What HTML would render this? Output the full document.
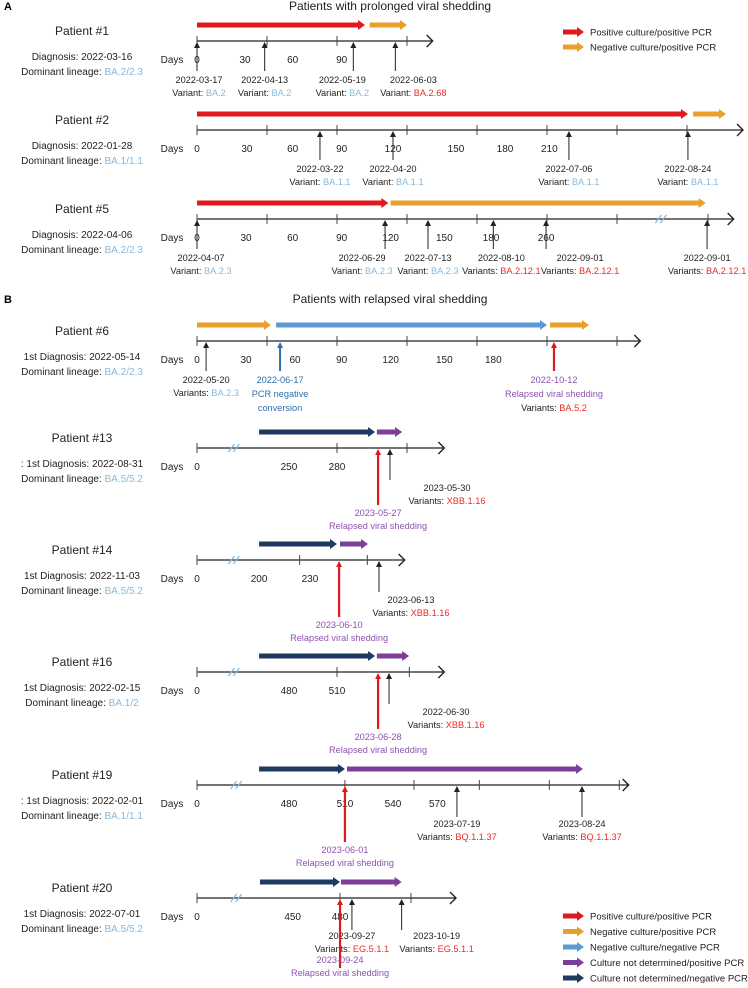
<!DOCTYPE html>
<html><head><meta charset="utf-8">
<style>
body{margin:0;background:#fff;width:748px;height:983px;overflow:hidden}
svg{font-family:"Liberation Sans",sans-serif}
</style></head>
<body>
<svg id="fig" width="748" height="983" viewBox="0 0 748 983" xmlns="http://www.w3.org/2000/svg">
<text x="4" y="10" font-size="11" font-weight="bold">A</text>
<text x="390" y="10" font-size="12" text-anchor="middle" fill="#222">Patients with prolonged viral shedding</text>
<text x="4" y="303" font-size="11" font-weight="bold">B</text>
<text x="390" y="303" font-size="12" text-anchor="middle" fill="#222">Patients with relapsed viral shedding</text>
</svg>
<script>
const COL={red:'#e0191f',orange:'#e8a02a',blue:'#5b9bd5',purple:'#7b3f99',navy:'#1f3a5f'};
const TXT={lb:'#86b9dc',red:'#ee2a2a',pu:'#8e52b0',bl:'#2e6fad',k:'#222'};
const ORIGIN=197, PXPERUNIT=70/30;
function X(u){return ORIGIN+u*PXPERUNIT;}

// --- data arrays (axis units) ---
const patientNames=['Patient #1','Patient #2','Patient #5','Patient #6','Patient #13','Patient #14','Patient #16','Patient #19','Patient #20'];
const diagnoses=['Diagnosis: 2022-03-16','Diagnosis: 2022-01-28','Diagnosis: 2022-04-06','1st Diagnosis: 2022-05-14',': 1st Diagnosis: 2022-08-31','1st Diagnosis: 2022-11-03','1st Diagnosis: 2022-02-15',': 1st Diagnosis: 2022-02-01','1st Diagnosis: 2022-07-01'];
const lineages=['BA.2/2.3','BA.1/1.1','BA.2/2.3','BA.2/2.3','BA.5/5.2','BA.5/5.2','BA.1/2','BA.1/1.1','BA.5/5.2'];
const rowY=[41,130,219,341,448,560,672,785,898];
const axisEnd=[101,234,230,190,106,89,106,185,111];
const breaks=[null,null,199,null,16,16,16,17,17];
const ticks=[[0,30,60,90],[0,30,60,90,120,150,180,210],[0,30,60,90,120,150,180,219],[0,30,60,90,120,150,180],[0,60,90],[0,44,73],[0,60,91],[0,63.4,93,121,151,181],[0,61.3,91.7]];
const tickLabels=[['0','30','60','90'],['0','30','60','90','120','150','180','210'],['0','30','60','90','120','150','180','260'],['0','30','60','90','120','150','180'],['0','250','280'],['0','200','230'],['0','480','510'],['0','480','510','540','570'],['0','450','480']];
const tickLabelPos=[[0,20.6,41,62],[0,21.4,41,62,84,111,132,151],[0,21,41,62,83,106,126,149.6],[0,21,42,62,83,106,127],[0,39.4,60],[0,26.6,48.4],[0,39.4,60],[0,39.4,63.4,84,103],[0,41,61.3]];
const segStart=[[0,74],[0,212.6],[0,83],[0,33.9,151.3],[26.6,77.1],[26.6,61.3],[26.6,77.1],[26.6,64.3],[27,61.7]];
const segEnd=[[72,90],[210.4,226.7],[82,218],[31.7,150,168],[76.3,87.9],[60,73.3],[76.3,90.9],[63.4,165.4],[61.3,87.7]];
const segColor=[['red','orange'],['red','orange'],['red','orange'],['orange','blue','orange'],['navy','purple'],['navy','purple'],['navy','purple'],['navy','purple'],['navy','purple']];
const sampleAt=[[0,29,67,85],[52.7,84,159.4,210.4],[0,80.6,99,127,149.6,218.6],[3.9],[82.7],[78],[82.3],[111.4,165],[66.4,87.7]];
const sampleDate=[['2022-03-17','2022-04-13','2022-05-19','2022-06-03'],['2022-03-22','2022-04-20','2022-07-06','2022-08-24'],['2022-04-07','2022-06-29','2022-07-13','2022-08-10','2022-09-01','2022-09-01'],['2022-05-20'],['2023-05-30'],['2023-06-13'],['2022-06-30'],['2023-07-19','2023-08-24'],['2023-09-27','2023-10-19']];
const samplePrefix=[['Variant: ','Variant: ','Variant: ','Variant: '],['Variant: ','Variant: ','Variant: ','Variant: '],['Variant: ','Variant: ','Variant: ','Variants: ','Variants: ','Variants: '],['Variants: '],['Variants: '],['Variants: '],['Variants: '],['Variants: ','Variants: '],['Variants: ','Variants: ']];
const sampleVariant=[['BA.2','BA.2','BA.2','BA.2.68'],['BA.1.1','BA.1.1','BA.1.1','BA.1.1'],['BA.2.3','BA.2.3','BA.2.3','BA.2.12.1','BA.2.12.1','BA.2.12.1'],['BA.2.3'],['XBB.1.16'],['XBB.1.16'],['XBB.1.16'],['BQ.1.1.37','BQ.1.1.37'],['EG.5.1.1','EG.5.1.1']];
const variantIsNew=[[0,0,0,1],[0,0,0,0],[0,0,0,1,1,1],[0],[1],[1],[1],[1,1],[1,1]];
// label layout nudges (px) so annotation text doesn't collide
const labelShift=[[2,0,-11,18],[0,0,0,0],[4,-23,0,8,34,0],[0],[57],[32],[57],[0,0],[0,35]];
const relapseAt=[null,null,null,153,77.6,60.9,77.6,63.4,61.3];
const relapseDate=[null,null,null,'2022-10-12','2023-05-27','2023-06-10','2023-06-28','2023-06-01','2023-09-24'];
const pcrNegAt=35.6, pcrNegDate='2022-06-17';
const legendTop=['Positive culture/positive PCR','Negative culture/positive PCR'];
const legendTopCol=['red','orange'];
const legendBot=['Positive culture/positive PCR','Negative culture/positive PCR','Negative culture/negative PCR','Culture not determined/positive PCR','Culture not determined/negative PCR'];
const legendBotCol=['red','orange','blue','purple','navy'];

const NS='http://www.w3.org/2000/svg';
const svg=document.getElementById('fig');
const FS=9.2;
function el(tag,attrs,parent){const e=document.createElementNS(NS,tag);for(const k in attrs)e.setAttribute(k,attrs[k]);(parent||svg).appendChild(e);return e;}
function txt(x,y,s,size,fill,anchor,parent){const t=el('text',{x:x,y:y,'font-size':size,fill:fill,'text-anchor':anchor||'middle'},parent);t.textContent=s;return t;}
function twoTone(x,y,a,b,colB,parent){const t=el('text',{x:x,y:y,'font-size':FS,'text-anchor':'middle',fill:TXT.k},parent);const s1=el('tspan',{},t);s1.textContent=a;const s2=el('tspan',{fill:colB},t);s2.textContent=b;return t;}
function fatArrow(x1,x2,y,c,parent){el('rect',{x:x1,y:y-2.5,width:Math.max(0,x2-x1-6),height:5,fill:c},parent);el('polygon',{points:`${x2-7},${y-5} ${x2},${y} ${x2-7},${y+5}`,fill:c},parent);}
function upArrow(x,y1,y2,c,w,parent){el('line',{x1:x,y1:y2,x2:x,y2:y1+5,stroke:c,'stroke-width':w},parent);el('polygon',{points:`${x-3},${y1+6} ${x},${y1} ${x+3},${y1+6}`,fill:c},parent);}

for(let p=0;p<patientNames.length;p++){
  const y=rowY[p];
  const g=el('g',{});
  
  
  const nameY=[35,124,213,335,442,554,666,779,892][p];
  const n=txt(82,nameY,patientNames[p],12,TXT.k,'middle',g);
  
  
  const d=txt(82,y+19,diagnoses[p],10,TXT.k,'middle',g);
  
  
  const l=twoTone(82,y+34,'Dominant lineage: ',lineages[p],TXT.lb,g);
  l.setAttribute('font-size','10');
  
  
  for(let s=0;s<segStart[p].length;s++){
    const bg=el('g',{},g);
    
    
    fatArrow(X(segStart[p][s]),X(segEnd[p][s]),y-16,COL[segColor[p][s]],bg);
  }
  const ax=el('g',{},g);
  
  
  const xe=X(axisEnd[p]);
  el('line',{x1:ORIGIN,y1:y,x2:xe,y2:y,stroke:'#222','stroke-width':1.2},ax);
  el('polyline',{points:`${xe-6},${y-6} ${xe},${y} ${xe-6},${y+6}`,fill:'none',stroke:'#222','stroke-width':1.4},ax);
  for(const t of ticks[p]){el('line',{x1:X(t),y1:y-5,x2:X(t),y2:y+5,stroke:'#444','stroke-width':1},ax);}
  if(breaks[p]!==null){const bx=X(breaks[p]);
    el('line',{x1:bx-6,y1:y+4,x2:bx,y2:y-4,stroke:'#86b9dc','stroke-width':1.3},ax);
    el('line',{x1:bx-1,y1:y+4,x2:bx+5,y2:y-4,stroke:'#86b9dc','stroke-width':1.3},ax);}
  const dl=txt(172,y+22,'Days',10,TXT.k,'middle',ax);
  
  
  for(let i=0;i<tickLabels[p].length;i++){
    const tl=txt(X(tickLabelPos[p][i]),y+22,tickLabels[p][i],10,TXT.k,'middle',ax);
    
    
  }
  for(let i=0;i<sampleAt[p].length;i++){
    const sg=el('g',{},g);
    
    
    const sx=X(sampleAt[p][i]);
    const len = p>=4 ? 32 : 30;
    upArrow(sx,y+1,y+len,'#222',1,sg);
    const tx=sx+labelShift[p][i];
    let ty=y+42;
    if(p>=4&&p<=6) ty=y+43;
    if(p===8) ty=y+41;
    txt(tx,ty,sampleDate[p][i],FS,TXT.k,'middle',sg);
    twoTone(tx,ty+13,samplePrefix[p][i],sampleVariant[p][i],variantIsNew[p][i]?TXT.red:TXT.lb,sg);
  }
  if(relapseAt[p]!==null){
    const rg=el('g',{},g);
    
    
    const rx=X(relapseAt[p]);
    const len=[0,0,0,30,57,57,57,57,70][p];
    upArrow(rx,y+1,y+len,COL.red,2.2,rg);
    if(p===3){
      txt(rx,y+42,relapseDate[p],FS,TXT.pu,'middle',rg);
      txt(rx,y+56,'Relapsed viral shedding',FS,TXT.pu,'middle',rg);
      twoTone(rx,y+70,'Variants: ','BA.5.2',TXT.red,rg);
    } else {
      const ry = p===8 ? y+65 : y+68;
      txt(rx,ry,relapseDate[p],FS,TXT.pu,'middle',rg);
      txt(rx,ry+13,'Relapsed viral shedding',FS,TXT.pu,'middle',rg);
    }
  }
  if(p===3){
    const pg=el('g',{},g);
    
    
    const px=X(pcrNegAt);
    upArrow(px,y+1,y+30,'#2e6fad',2,pg);
    txt(px,y+42,pcrNegDate,FS,TXT.bl,'middle',pg);
    txt(px,y+56,'PCR negative',FS,TXT.bl,'middle',pg);
    txt(px,y+70,'conversion',FS,TXT.bl,'middle',pg);
  }
}
function legend(items,cols,x,y0,dy,name){
  const g=el('g',{});
  
  
  for(let i=0;i<items.length;i++){
    const e=el('g',{},g);
    
    
    const y=y0+i*dy;
    fatArrow(x,x+21,y,COL[cols[i]],e);
    txt(x+27,y+3.5,items[i],9.5,TXT.k,'start',e);
  }
}
legend(legendTop,legendTopCol,563,32,15,'legend-top');
legend(legendBot,legendBotCol,563,916,15.5,'legend-bottom');
</script>
</body></html>
